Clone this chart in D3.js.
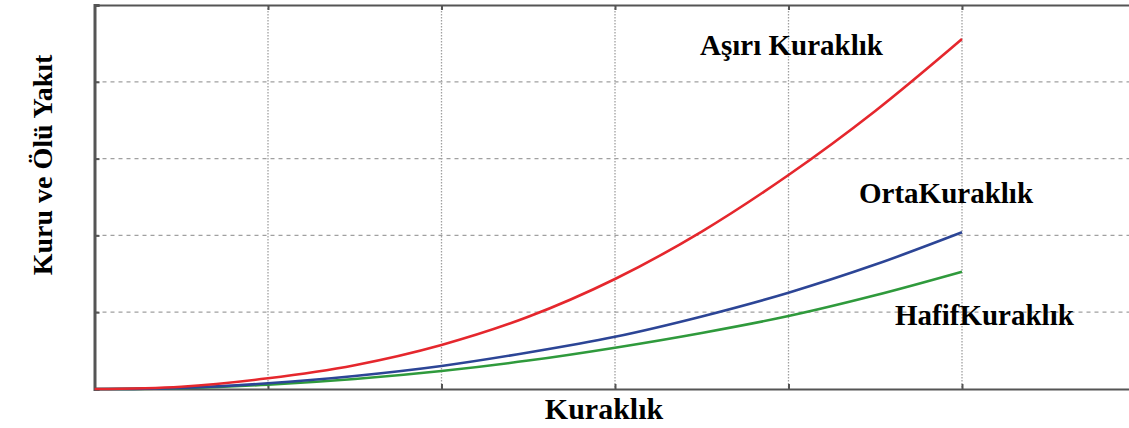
<!DOCTYPE html>
<html>
<head>
<meta charset="utf-8">
<script src="https://cdn.jsdelivr.net/npm/d3@7"></script>
<style>
  html, body { margin: 0; padding: 0; background: #fff; }
  svg { display: block; }
  text { font-family: "Liberation Serif", "Times New Roman", serif; font-weight: bold; fill: #000; }
</style>
</head>
<body>
<svg id="chart" width="1129" height="428"></svg>
<script>
// ---- data ----
const xValues = [0, 0.5, 1, 1.5, 2, 2.5, 3, 3.5, 4, 4.5, 5];
const asiriKuraklik = [0, 0.03, 0.14, 0.31, 0.573, 0.94, 1.432, 2.05, 2.786, 3.62, 4.557];
const ortaKuraklik  = [0, 0.015, 0.074, 0.17, 0.30, 0.475, 0.68, 0.945, 1.254, 1.62, 2.04];
const hafifKuraklik = [0, 0.012, 0.056, 0.13, 0.234, 0.37, 0.538, 0.73, 0.95, 1.22, 1.527];
const xTicks = [0, 1, 2, 3, 4, 5, 6];
const yTicks = [0, 1, 2, 3, 4, 5];
const seriesNames = ["Aşırı Kuraklık", "OrtaKuraklık", "HafifKuraklık"];
const xLabel = "Kuraklık";
const yLabel = "Kuru ve Ölü Yakıt";

// ---- layout ----
const svg = d3.select("#chart");
const pLeft = 94.5, pRight = 1135.5, pTop = 5, pBottom = 389;
const x = d3.scaleLinear().domain([0, 6]).range([pLeft, pRight]);
const y = d3.scaleLinear().domain([0, 5]).range([pBottom, pTop]);

// grid
const grid = svg.append("g");
grid.selectAll("line.v").data(xTicks.slice(1, -1)).join("line")
  .attr("x1", d => x(d)).attr("x2", d => x(d))
  .attr("y1", pTop).attr("y2", pBottom)
  .attr("stroke", "#a0a0a0").attr("stroke-width", 1.3)
  .attr("stroke-dasharray", "1.5,1.5");
grid.selectAll("line.h").data(yTicks.slice(1, -1)).join("line")
  .attr("x1", pLeft).attr("x2", 1129)
  .attr("y1", d => y(d)).attr("y2", d => y(d))
  .attr("stroke", "#a0a0a0").attr("stroke-width", 1.3)
  .attr("stroke-dasharray", "4,4");

// axes (no labels, inner ticks)
const axL = d3.axisLeft(y).tickValues(yTicks).tickSize(-5).tickFormat("");
const axB = d3.axisBottom(x).tickValues(xTicks).tickSize(-5).tickFormat("");
const axT = d3.axisTop(x).tickValues(xTicks).tickSize(-5).tickFormat("");
function styleAxis(g) {
  g.selectAll(".domain").attr("stroke", "#555").attr("stroke-width", 2);
  g.selectAll(".tick line").attr("stroke", "#555").attr("stroke-width", 2);
}
svg.append("g").attr("transform", `translate(0,${pBottom})`).call(axB).call(styleAxis);
svg.append("g").attr("transform", `translate(0,${pTop})`).call(axT).call(styleAxis);
svg.append("g").attr("transform", `translate(${pLeft},0)`).call(axL).call(styleAxis)
  .selectAll(".domain").attr("stroke-width", 3);

// lines
const line = d3.line().x((d, i) => x(xValues[i])).y(d => y(d)).curve(d3.curveCatmullRom.alpha(0.5));
const series = [
  { values: hafifKuraklik, color: "#2f9a3c" },
  { values: ortaKuraklik, color: "#2c4596" },
  { values: asiriKuraklik, color: "#e5272d" }
];
svg.append("g").selectAll("path").data(series).join("path")
  .attr("d", d => line(d.values))
  .attr("fill", "none")
  .attr("stroke", d => d.color)
  .attr("stroke-width", 2.6);

// series labels
const labelPos = [[700, 55], [859, 203], [895, 325]];
svg.append("g").selectAll("text").data(seriesNames).join("text")
  .attr("x", (d, i) => labelPos[i][0])
  .attr("y", (d, i) => labelPos[i][1])
  .attr("font-size", 29)
  .text(d => d);

// axis titles
svg.append("text")
  .attr("x", 604).attr("y", 419)
  .attr("text-anchor", "middle").attr("font-size", 30)
  .text(xLabel);
svg.append("text")
  .attr("transform", "translate(52,165) rotate(-90)")
  .attr("text-anchor", "middle").attr("font-size", 28)
  .text(yLabel);
</script>
</body>
</html>
